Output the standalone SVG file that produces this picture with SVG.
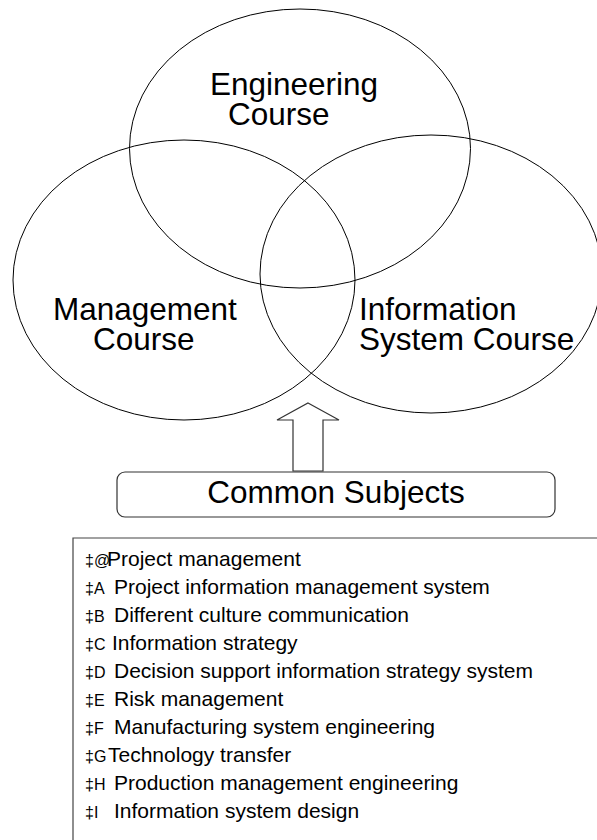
<svg xmlns="http://www.w3.org/2000/svg" width="597" height="840" viewBox="0 0 597 840">
<style>
.ell{fill:none;stroke:#000;stroke-width:1}
.big{font-family:"Liberation Sans",Arial,sans-serif;font-size:31.5px;fill:#000}
.item{font-family:"Liberation Sans",Arial,sans-serif;font-size:21px;fill:#000}
.pre{font-size:16px}
.box{fill:#fff;stroke:#333;stroke-width:1.2}
.line{stroke:#444;stroke-width:1.2;fill:none}
</style>
<rect width="597" height="840" fill="#fff"/>
<g id="engineering">
<ellipse class="ell" cx="300" cy="148.5" rx="170.5" ry="139.5"/>
<text class="big"><tspan x="210" y="95">Engineering</tspan><tspan x="228" y="125">Course</tspan></text>
</g>
<g id="management">
<ellipse class="ell" cx="184" cy="280" rx="171" ry="140"/>
<text class="big"><tspan x="53" y="320">Management</tspan><tspan x="93" y="350">Course</tspan></text>
</g>
<g id="information">
<ellipse class="ell" cx="431" cy="274" rx="171" ry="139"/>
<text class="big"><tspan x="359" y="320">Information</tspan><tspan x="359" y="350">System Course</tspan></text>
</g>
<g id="connectors">
<polygon class="box" points="308,403 339,420 323,420 323,471 293,471 293,420 277,420"/>
</g>
<g id="common">
<rect class="box" x="117" y="472" width="438" height="45" rx="8" ry="8"/>
<text class="big" x="336" y="503" text-anchor="middle">Common Subjects</text>
</g>
<g id="list">
<path class="line" d="M73,840 V538 H597"/>
<text class="item" y="566"><tspan class="pre" x="85">‡@</tspan><tspan x="107">Project management</tspan></text>
<text class="item" y="594"><tspan class="pre" x="85">‡A </tspan><tspan x="114">Project information management system</tspan></text>
<text class="item" y="622"><tspan class="pre" x="85">‡B </tspan><tspan x="114">Different culture communication</tspan></text>
<text class="item" y="650"><tspan class="pre" x="85">‡C </tspan><tspan x="112">Information strategy</tspan></text>
<text class="item" y="678"><tspan class="pre" x="85">‡D </tspan><tspan x="114">Decision support information strategy system</tspan></text>
<text class="item" y="706"><tspan class="pre" x="85">‡E </tspan><tspan x="114">Risk management</tspan></text>
<text class="item" y="734"><tspan class="pre" x="85">‡F </tspan><tspan x="114">Manufacturing system engineering</tspan></text>
<text class="item" y="762"><tspan class="pre" x="85">‡G</tspan><tspan x="108">Technology transfer</tspan></text>
<text class="item" y="790"><tspan class="pre" x="85">‡H </tspan><tspan x="114">Production management engineering</tspan></text>
<text class="item" y="818"><tspan class="pre" x="85">‡I </tspan><tspan x="114">Information system design</tspan></text>
</g>
</svg>
